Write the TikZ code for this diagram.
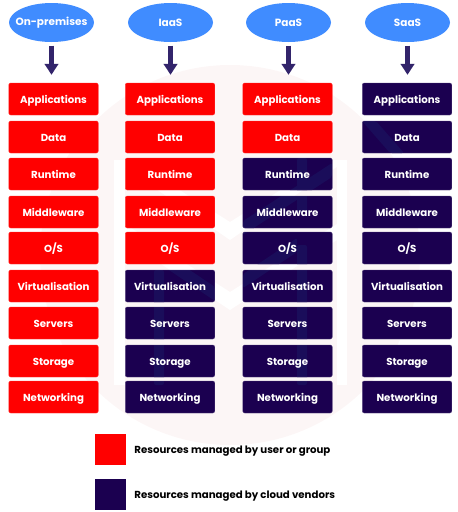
\documentclass[tikz,border=0pt]{standalone}
\usepackage{fontspec}
\setmainfont{Poppins}
\usetikzlibrary{shapes.geometric,arrows.meta,positioning}
\definecolor{redfill}{HTML}{FF0000}
\definecolor{navyfill}{HTML}{1B0050}
\definecolor{navyband}{HTML}{1A0D5A}
\definecolor{bluefill}{HTML}{408CFF}
\definecolor{arrowfill}{HTML}{32246B}
\definecolor{markfill}{HTML}{FCF6F6}
\tikzset{
  deploy/.style={ellipse,fill=bluefill,text=white,inner sep=-12pt,minimum width=85pt,minimum height=39pt,font=\fontsize{10.5}{12}\selectfont\bfseries},
  layerbox/.style={rectangle,rounded corners=2pt,inner sep=0pt,minimum width=89.5pt,minimum height=32pt,text=white,text height=10pt,text depth=2pt,font=\fontsize{10.2}{12}\selectfont\bfseries},
  redbox/.style={layerbox,fill=redfill,draw=redfill!80!white,line width=0.4pt},
  navybox/.style={layerbox,fill=navyfill,draw=navyfill!75!white,line width=0.4pt,path picture={
    \fill[navyband] (a1) -- (a2) -- (a3) -- (a4) -- cycle;
    \fill[navyband] (b1) -- (b2) -- (b3) -- (b4) -- cycle;
    \fill[navyband] (c1) -- (c2) -- (c3) -- (c4) -- cycle;
    \fill[navyband] (d1) -- (d2) -- (d3) -- (d4) -- cycle;
    \fill[navyband] (e1) -- (e2) -- (e3) -- (e4) -- cycle;
    \fill[navyband] (f1) -- (f2) -- (f3) -- (f4) -- cycle;
    \fill[navyband] (g1) -- (g2) -- (g3) -- (g4) -- cycle;}},
  keybox/.style={rectangle,inner sep=0pt,minimum size=31pt},
  keytext/.style={right=8pt,inner sep=0pt,text=black,text height=10pt,text depth=2pt,font=\fontsize{10.2}{12}\selectfont\bfseries},
  downarrow/.style={-{Triangle[width=13.5pt,length=11pt]},arrowfill,line width=5.5pt,shorten <=3.5pt,shorten >=8pt},
}
\begin{document}
\begin{tikzpicture}[x=1pt,y=-1pt]
  \useasboundingbox (0,0) rectangle (458,512);
  % pale mark behind the boxes
  \fill[markfill] (230,255) circle (190);
  \fill[white] (114,160) rectangle (125,385);
  \fill[white] (337,160) rectangle (347,385);
  \fill[white] (114,160) -- (132,160) -- (230,222) -- (328,160) -- (347,160) -- (230,240) -- cycle;
  \fill[white] (125,224) -- (230,292) -- (337,224) -- (337,240) -- (230,310) -- (125,240) -- cycle;
  % lighter bands inside the dark boxes
  \coordinate (a1) at (297,158); \coordinate (a2) at (307,158); \coordinate (a3) at (307,212); \coordinate (a4) at (297,212);
  \coordinate (b1) at (297,245); \coordinate (b2) at (307,245); \coordinate (b3) at (307,385); \coordinate (b4) at (297,385);
  \coordinate (c1) at (154,270); \coordinate (c2) at (164,270); \coordinate (c3) at (164,385); \coordinate (c4) at (154,385);
  \coordinate (d1) at (332,163); \coordinate (d2) at (332,177); \coordinate (d3) at (243,235); \coordinate (d4) at (243,221);
  \coordinate (e1) at (297,238); \coordinate (e2) at (297,252); \coordinate (e3) at (243,288); \coordinate (e4) at (243,274);
  \coordinate (f1) at (163,252); \coordinate (f2) at (215,287); \coordinate (f3) at (215,301); \coordinate (f4) at (163,266);
  \coordinate (g1) at (362,121); \coordinate (g2) at (376,121); \coordinate (g3) at (404,153); \coordinate (g4) at (390,153);
  % deployment models
  \node[deploy] (onprem) at (51.5,22.5) {On-premises};
  \node[deploy] (iaas) at (170.5,22.5) {IaaS};
  \node[deploy] (paas) at (288.5,22.5) {PaaS};
  \node[deploy] (saas) at (407.5,22.5) {SaaS};
  % on-premises column
  \node[redbox] (apps1) at (53.5,99) {Applications};
  \node[redbox] (data1) at (53.5,137) {Data};
  \node[redbox] (run1) at (53.5,174) {Runtime};
  \node[redbox] (mid1) at (53.5,212) {Middleware};
  \node[redbox] (os1) at (53.5,248) {O/S};
  \node[redbox] (virt1) at (53.5,286) {Virtualisation};
  \node[redbox] (serv1) at (53.5,323) {Servers};
  \node[redbox] (stor1) at (53.5,361) {Storage};
  \node[redbox] (net1) at (53.5,397) {Networking};
  % iaas column
  \node[redbox] (apps2) at (170,99) {Applications};
  \node[redbox] (data2) at (170,137) {Data};
  \node[redbox] (run2) at (170,174) {Runtime};
  \node[redbox] (mid2) at (170,212) {Middleware};
  \node[redbox] (os2) at (170,248) {O/S};
  \node[navybox] (virt2) at (170,286) {Virtualisation};
  \node[navybox] (serv2) at (170,323) {Servers};
  \node[navybox] (stor2) at (170,361) {Storage};
  \node[navybox] (net2) at (170,397) {Networking};
  % paas column
  \node[redbox] (apps3) at (287.5,99) {Applications};
  \node[redbox] (data3) at (287.5,137) {Data};
  \node[navybox] (run3) at (287.5,174) {Runtime};
  \node[navybox] (mid3) at (287.5,212) {Middleware};
  \node[navybox] (os3) at (287.5,248) {O/S};
  \node[navybox] (virt3) at (287.5,286) {Virtualisation};
  \node[navybox] (serv3) at (287.5,323) {Servers};
  \node[navybox] (stor3) at (287.5,361) {Storage};
  \node[navybox] (net3) at (287.5,397) {Networking};
  % saas column
  \node[navybox] (apps4) at (407,99) {Applications};
  \node[navybox] (data4) at (407,137) {Data};
  \node[navybox] (run4) at (407,174) {Runtime};
  \node[navybox] (mid4) at (407,212) {Middleware};
  \node[navybox] (os4) at (407,248) {O/S};
  \node[navybox] (virt4) at (407,286) {Virtualisation};
  \node[navybox] (serv4) at (407,323) {Servers};
  \node[navybox] (stor4) at (407,361) {Storage};
  \node[navybox] (net4) at (407,397) {Networking};
  % arrows
  \draw[downarrow] (onprem.south) -- (onprem.south |- apps1.north);
  \draw[downarrow] (iaas.south) -- (iaas.south |- apps2.north);
  \draw[downarrow] (paas.south) -- (paas.south |- apps3.north);
  \draw[downarrow] (saas.south) -- (saas.south |- apps4.north);
  % legend
  \node[keybox,fill=redfill] (keyred) at (110.5,449.5) {};
  \node[keytext] (keyredtext) at (keyred.east) {Resources managed by user or group};
  \node[keybox,fill=navyfill] (keynavy) at (110.5,494.5) {};
  \node[keytext] (keynavytext) at (keynavy.east) {Resources managed by cloud vendors};
\end{tikzpicture}
\end{document}
